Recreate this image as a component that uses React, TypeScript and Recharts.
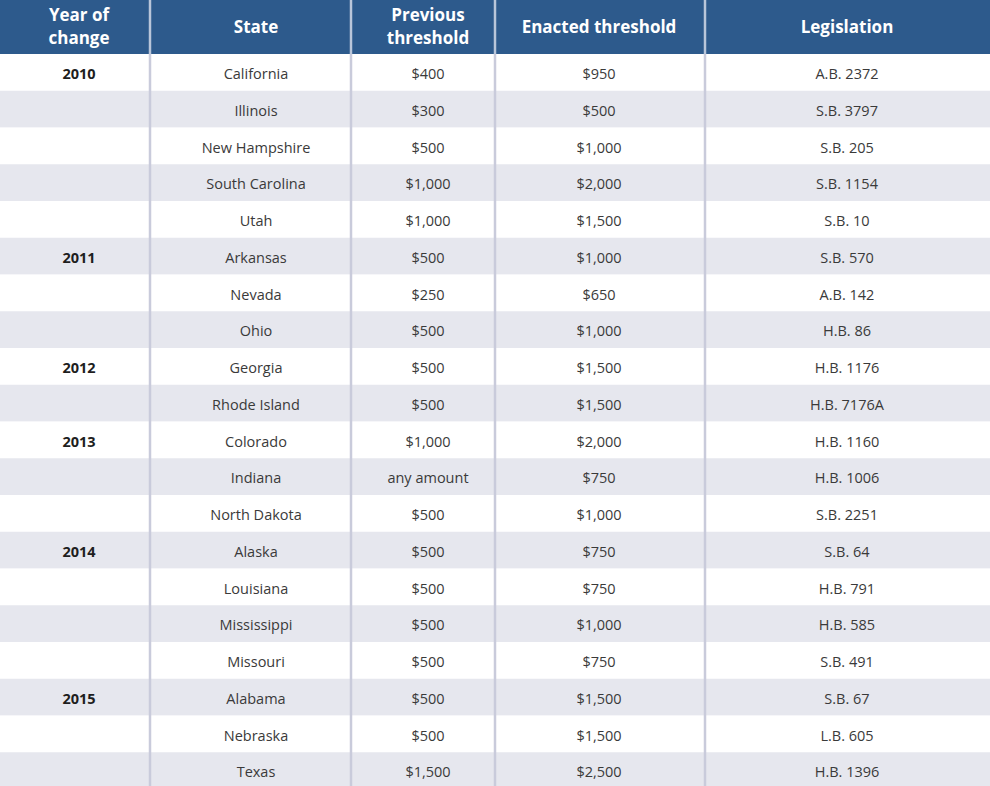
import { Bar, BarChart, Cell, Customized, LabelList, ReferenceLine, XAxis, YAxis } from "recharts";

document.body.style.margin = "0";

const years = ["2010", "", "", "", "", "2011", "", "", "2012", "", "2013", "", "", "2014", "", "", "", "2015", "", ""];

const states = [
    "California", "Illinois", "New Hampshire", "South Carolina", "Utah",
    "Arkansas", "Nevada", "Ohio", "Georgia", "Rhode Island",
    "Colorado", "Indiana", "North Dakota", "Alaska", "Louisiana",
    "Mississippi", "Missouri", "Alabama", "Nebraska", "Texas",
];

const previousThreshold = [
    "$400", "$300", "$500", "$1,000", "$1,000",
    "$500", "$250", "$500", "$500", "$500",
    "$1,000", "any amount", "$500", "$500", "$500",
    "$500", "$500", "$500", "$500", "$1,500",
];

const enactedThreshold = [
    "$950", "$500", "$1,000", "$2,000", "$1,500",
    "$1,000", "$650", "$1,000", "$1,500", "$1,500",
    "$2,000", "$750", "$1,000", "$750", "$750",
    "$1,000", "$750", "$1,500", "$1,500", "$2,500",
];

const legislation = [
    "A.B. 2372", "S.B. 3797", "S.B. 205", "S.B. 1154", "S.B. 10",
    "S.B. 570", "A.B. 142", "H.B. 86", "H.B. 1176", "H.B. 7176A",
    "H.B. 1160", "H.B. 1006", "S.B. 2251", "S.B. 64", "H.B. 791",
    "H.B. 585", "S.B. 491", "S.B. 67", "L.B. 605", "H.B. 1396",
];

const headers = [["Year of", "change"], ["State"], ["Previous", "threshold"], ["Enacted threshold"], ["Legislation"]];

const rows = states.map((state, i) => ({
    year: years[i],
    state,
    prev: previousThreshold[i],
    enacted: enactedThreshold[i],
    legislation: legislation[i],
}));

// layout (pixels == x-axis units)
const WIDTH = 990;
const HEADER_H = 54;
const colCenters = [79, 256, 428, 599, 847];
const dividers = [150, 351, 495, 705];

const FONT = "'Open Sans', sans-serif";
const HEADER_BG = "#2d5a8c";
const STRIPE = "#e6e7ee";
const DIVIDER = "#c9cbdb";

const cellText = (cx: number, bold: boolean) => (props: any) => {
    const { y, height, value } = props;
    if (!value) return null;
    return (
        <text
            x={cx}
            y={Number(y) + Number(height) / 2 + 1}
            textAnchor="middle"
            dominantBaseline="central"
            fontFamily={FONT}
            fontSize={bold ? 14.5 : 14.5}
            fontWeight={bold ? 700 : 400}
            fill={bold ? "#1e1e1e" : "#3a3a3a"}
        >
            {value}
        </text>
    );
};

const Header = () => (
    <g>
        <rect x={0} y={0} width={WIDTH} height={HEADER_H} fill={HEADER_BG} />
        {dividers.map((d) => (
            <line key={d} x1={d} x2={d} y1={0} y2={HEADER_H} stroke="#b9c6da" strokeWidth={2.5} />
        ))}
        {headers.map((lines, i) => (
            <text
                key={i}
                x={colCenters[i]}
                textAnchor="middle"
                fontFamily={FONT}
                fontSize={17}
                fontWeight={700}
                fill="#ffffff"
            >
                {lines.map((l, j) => (
                    <tspan key={j} x={colCenters[i]} y={lines.length === 1 ? 33 : 21 + j * 23}>
                        {l}
                    </tspan>
                ))}
            </text>
        ))}
    </g>
);

export default function App() {
    return (
        <div style={{ width: WIDTH, height: 786, overflow: "hidden", background: "#fff" }}>
            <BarChart
                width={WIDTH}
                height={789}
                data={rows}
                layout="vertical"
                barCategoryGap={0}
                margin={{ top: HEADER_H, right: 0, bottom: 0, left: 0 }}
            >
                <XAxis type="number" domain={[0, WIDTH]} hide />
                <YAxis type="category" dataKey="state" hide />
                <Bar dataKey={() => WIDTH} isAnimationActive={false}>
                    {rows.map((_, i) => (
                        <Cell key={`row-${i}`} fill={i % 2 === 1 ? STRIPE : "#ffffff"} />
                    ))}
                    <LabelList dataKey="year" content={cellText(colCenters[0], true)} />
                    <LabelList dataKey="state" content={cellText(colCenters[1], false)} />
                    <LabelList dataKey="prev" content={cellText(colCenters[2], false)} />
                    <LabelList dataKey="enacted" content={cellText(colCenters[3], false)} />
                    <LabelList dataKey="legislation" content={cellText(colCenters[4], false)} />
                </Bar>
                {dividers.map((d) => (
                    <ReferenceLine key={d} x={d} stroke={DIVIDER} strokeWidth={2.5} />
                ))}
                <Customized component={Header} />
            </BarChart>
        </div>
    );
}
